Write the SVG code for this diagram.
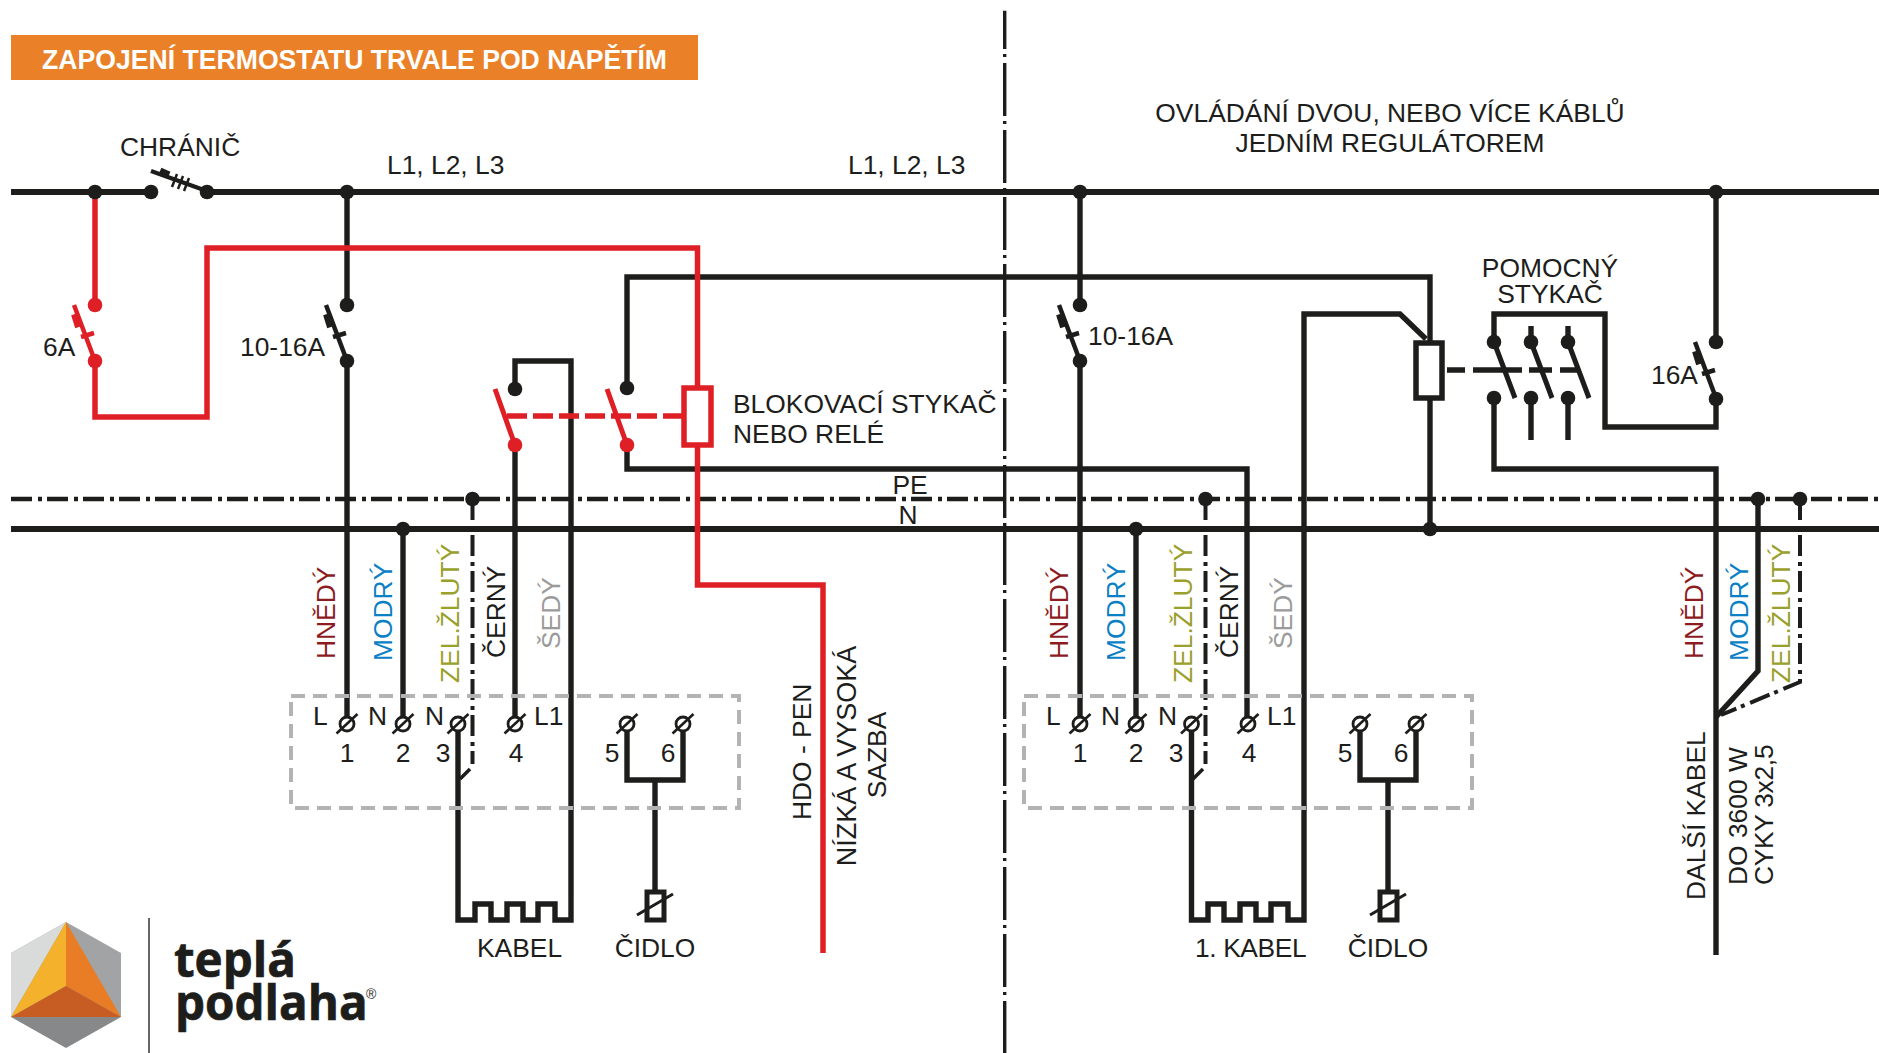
<svg xmlns="http://www.w3.org/2000/svg" xmlns:xlink="http://www.w3.org/1999/xlink" width="1879" height="1053" viewBox="0 0 1879 1053">
<style>
text{font-family:"Liberation Sans",Arial,sans-serif;font-size:26.4px;fill:#1d1d1b}
.w{fill:none;stroke:#1d1d1b;stroke-width:6;stroke-miterlimit:10}
.r{fill:none;stroke:#df1f26;stroke-width:5.5;stroke-miterlimit:10}
.dd{stroke-dasharray:21 6 4 5;stroke-width:4.4}
.t{stroke-width:5.4}
.dv{stroke-dasharray:21 6 4 5;stroke-width:4}
.k{fill:#1d1d1b}
.kr{fill:#df1f26}
.box{fill:none;stroke:#b3b3b3;stroke-width:4;stroke-dasharray:14 8}
.brown{fill:#8c1c1f}.blue{fill:#0b80c4}.olive{fill:#9aa02c}.grey{fill:#9b9b9b}
.m{text-anchor:middle}
.logo{font-family:"Open Sans",sans-serif;font-weight:bold;font-size:47.5px;stroke:#1d1d1b;stroke-width:.7}
</style>
<defs>
<g id="term">
<circle r="7" fill="#fff" stroke="#1d1d1b" stroke-width="2.8"/>
<path d="M-10.500 9.500L10.500-10" stroke="#1d1d1b" stroke-width="2.600" fill="none"/>
</g>
<g id="blade">
<path d="M-21 0L0 56M-14 32L-1 28" fill="none" stroke-width="4.500"/>
<path d="M-20 9L-16 22" fill="none" stroke-width="8"/>
</g>
<g id="sensor">
<rect x="-8" y="-29" width="17" height="28" fill="none" stroke="#1d1d1b" stroke-width="5"/>
<path d="M-18-6L18-27" stroke="#1d1d1b" stroke-width="3" fill="none"/>
</g>
</defs>

<g id="title">
<rect x="11" y="35" width="687" height="45" fill="#ea8129"/>
<text x="42" y="69" style="font-weight:bold;font-size:27px;fill:#fff" textLength="625" lengthAdjust="spacingAndGlyphs">ZAPOJENÍ TERMOSTATU TRVALE POD NAPĚTÍM</text>
</g>

<g id="separator">
<path d="M1004.700 10.700V1053" fill="none" stroke="#1d1d1b" stroke-width="3.400" stroke-dasharray="53 5 3 6" stroke-dashoffset="14.700"/>
</g>

<g id="connectors">
<path class="w" d="M11 192H150M207 192H1879"/>
<path class="w dd" d="M11 499H1879"/>
<path class="w" d="M11 529H1879"/>
<path class="w t" d="M347 192V305M347 361V717"/>
<path class="w t" d="M403 529V717"/>
<path class="w dv" d="M472.500 499V764"/>
<path class="w t" d="M515 389V361H571V920H555V904H538V920H523V904H507V920H491V904H475V920H458V731"/>
<path class="w" d="M470 769L460 779" style="stroke-width:3.500"/>
<path class="w t" d="M515 445V717"/>
<path class="w t" d="M627 731V780H683V731M655 780V891"/>
<path class="w t" d="M627 388V277H1430V342M627 445V469H1247V717"/>
<path class="w t" d="M1080 192V305M1080 361V717"/>
<path class="w t" d="M1136 529V717"/>
<path class="w dv" d="M1205.500 499V764"/>
<path class="w" d="M1203 769L1193 779" style="stroke-width:3.500"/>
<path class="w t" d="M1191.500 731V920H1208V904H1224V920H1240V904H1256V920H1271V904H1288V920H1304V314H1400L1426 339"/>
<path class="w t" d="M1360 731V780H1416V731M1388 780V891"/>
<path class="w t" d="M1430 398V529"/>
<path class="w t" d="M1447 370H1465M1473 370H1522M1529 370H1552M1560 370H1577"/>
<path class="w t" d="M1494 342V314H1605V427H1716V399"/>
<path class="w t" d="M1531 326V342M1568 326V342M1531 398V440M1568 398V440"/>
<path class="w t" d="M1494 398V469H1716V955"/>
<path class="w t" d="M1716 192V342"/>
<path class="w t" d="M1758 499V671L1716 717"/>
<path class="w dv" d="M1800 499V682L1721 715"/>
<path class="r" d="M95 192V305M95 361V417H207V248H697.500V388M697.500 445V585H823V953"/>
<path class="r" d="M507 416H682" stroke-dasharray="20 6"/>
</g>

<g id="breaker">
<circle class="k" cx="151" cy="192" r="7.300"/>
<circle class="k" cx="207" cy="192" r="7.300"/>
<path class="w" d="M151 171L204 190" style="stroke-width:4"/>
<path class="w" d="M160 171L169 175" style="stroke-width:7"/>
<path class="w" d="M177 174L172 187M183 176L178 189M189 178L184 191" style="stroke-width:2.500"/>
<text x="120" y="156">CHRÁNIČ</text>
</g>

<g id="junctions">
<circle class="k" cx="95" cy="192" r="7.300"/>
<circle class="k" cx="347" cy="192" r="7.300"/>
<circle class="k" cx="1080" cy="192" r="7.300"/>
<circle class="k" cx="1716" cy="192" r="7.300"/>
<circle class="k" cx="403" cy="529" r="7.300"/>
<circle class="k" cx="472.500" cy="499" r="7.300"/>
<circle class="k" cx="1136" cy="529" r="7.300"/>
<circle class="k" cx="1205.500" cy="499" r="7.300"/>
<circle class="k" cx="1430" cy="529" r="7.300"/>
<circle class="k" cx="1758" cy="499" r="7.300"/>
<circle class="k" cx="1800" cy="499" r="7.300"/>
</g>

<g id="switch-6a">
<use href="#blade" x="95" y="305" stroke="#df1f26"/>
<circle class="kr" cx="95" cy="305" r="7.300"/>
<circle class="kr" cx="95" cy="361" r="7.300"/>
<text x="43" y="356">6A</text>
</g>
<g id="switch-10-16a-left">
<use href="#blade" x="347" y="305" stroke="#1d1d1b"/>
<circle class="k" cx="347" cy="305" r="7.300"/>
<circle class="k" cx="347" cy="361" r="7.300"/>
<text x="240" y="356">10-16A</text>
</g>
<g id="switch-10-16a-right">
<use href="#blade" x="1080" y="305" stroke="#1d1d1b"/>
<circle class="k" cx="1080" cy="305" r="7.300"/>
<circle class="k" cx="1080" cy="361" r="7.300"/>
<text x="1088" y="345">10-16A</text>
</g>
<g id="switch-16a">
<use href="#blade" x="1716" y="342" stroke="#1d1d1b"/>
<circle class="k" cx="1716" cy="342" r="7.300"/>
<circle class="k" cx="1716" cy="399" r="7.300"/>
<text x="1651" y="384">16A</text>
</g>

<g id="blocking-relay">
<circle class="k" cx="515" cy="389" r="7.300"/>
<circle class="kr" cx="515" cy="445" r="7.300"/>
<circle class="k" cx="627" cy="388" r="7.300"/>
<circle class="kr" cx="627" cy="445" r="7.300"/>
<path class="r" d="M495 389L515 445M607 389L627 445" style="stroke-width:5"/>
<rect x="684" y="388" width="27" height="57" class="r"/>
<text x="733" y="413">BLOKOVACÍ STYKAČ</text>
<text x="733" y="443">NEBO RELÉ</text>
</g>

<g id="aux-contactor">
<rect x="1416" y="343" width="26" height="55" fill="none" stroke="#1d1d1b" stroke-width="5.500"/>
<path class="w" d="M1494 342L1515 398M1531 342L1552 398M1568 342L1589 398" style="stroke-width:5"/>
<circle class="k" cx="1494" cy="342" r="7.300"/>
<circle class="k" cx="1531" cy="342" r="7.300"/>
<circle class="k" cx="1568" cy="342" r="7.300"/>
<circle class="k" cx="1494" cy="398" r="7.300"/>
<circle class="k" cx="1531" cy="398" r="7.300"/>
<circle class="k" cx="1568" cy="398" r="7.300"/>
<text class="m" x="1550" y="277">POMOCNÝ</text>
<text class="m" x="1550" y="303">STYKAČ</text>
</g>

<g id="thermostat-left">
<rect class="box" x="291" y="696" width="448" height="112"/>
<use href="#term" x="347" y="724"/>
<use href="#term" x="403" y="724"/>
<use href="#term" x="458" y="724"/>
<use href="#term" x="515" y="724"/>
<use href="#term" x="627" y="724"/>
<use href="#term" x="683" y="724"/>
<text x="313" y="725">L</text><text x="368" y="725">N</text><text x="425" y="725">N</text><text x="534" y="725">L1</text>
<text class="m" x="347" y="762">1</text><text class="m" x="403" y="762">2</text><text class="m" x="443" y="762">3</text><text class="m" x="516" y="762">4</text><text class="m" x="612" y="762">5</text><text class="m" x="668" y="762">6</text>
</g>
<g id="thermostat-right">
<rect class="box" x="1024" y="696" width="448" height="112"/>
<use href="#term" x="1080" y="724"/>
<use href="#term" x="1136" y="724"/>
<use href="#term" x="1191.500" y="724"/>
<use href="#term" x="1248" y="724"/>
<use href="#term" x="1360" y="724"/>
<use href="#term" x="1416" y="724"/>
<text x="1046" y="725">L</text><text x="1101" y="725">N</text><text x="1158" y="725">N</text><text x="1267" y="725">L1</text>
<text class="m" x="1080" y="762">1</text><text class="m" x="1136" y="762">2</text><text class="m" x="1176" y="762">3</text><text class="m" x="1249" y="762">4</text><text class="m" x="1345" y="762">5</text><text class="m" x="1401" y="762">6</text>
</g>

<g id="sensor-left"><use href="#sensor" x="655" y="921"/><text class="m" x="655" y="957">ČIDLO</text></g>
<g id="sensor-right"><use href="#sensor" x="1388" y="921"/><text class="m" x="1388" y="957">ČIDLO</text></g>
<g id="cable-left"><text x="477" y="957">KABEL</text></g>
<g id="cable-right"><text x="1195" y="957" style="letter-spacing:-.4px">1. KABEL</text></g>

<g id="labels">
<text x="387" y="174">L1, L2, L3</text>
<text x="848" y="174">L1, L2, L3</text>
<text class="m" x="1390" y="122">OVLÁDÁNÍ DVOU, NEBO VÍCE KÁBLŮ</text>
<text class="m" x="1390" y="152">JEDNÍM REGULÁTOREM</text>
<text class="m" x="910" y="494">PE</text>
<text class="m" x="908" y="524">N</text>
<text class="brown" transform="translate(335 659) rotate(-90)">HNĚDÝ</text>
<text class="blue" transform="translate(392 661) rotate(-90)">MODRÝ</text>
<text class="olive" transform="translate(459 683) rotate(-90)">ZEL.ŽLUTÝ</text>
<text transform="translate(505 658) rotate(-90)">ČERNÝ</text>
<text class="grey" transform="translate(560 649) rotate(-90)">ŠEDÝ</text>
<text class="brown" transform="translate(1068 659) rotate(-90)">HNĚDÝ</text>
<text class="blue" transform="translate(1125 661) rotate(-90)">MODRÝ</text>
<text class="olive" transform="translate(1192 683) rotate(-90)">ZEL.ŽLUTÝ</text>
<text transform="translate(1238 658) rotate(-90)">ČERNÝ</text>
<text class="grey" transform="translate(1292 649) rotate(-90)">ŠEDÝ</text>
<text class="brown" transform="translate(1703 659) rotate(-90)">HNĚDÝ</text>
<text class="blue" transform="translate(1748 661) rotate(-90)">MODRÝ</text>
<text class="olive" transform="translate(1790 683) rotate(-90)">ZEL.ŽLUTÝ</text>
<text transform="translate(811 820) rotate(-90)">HDO - PEN</text>
<text class="m" transform="translate(856 756) rotate(-90)" style="font-size:27px">NÍZKÁ A VYSOKÁ</text>
<text class="m" transform="translate(886 755) rotate(-90)">SAZBA</text>
<text transform="translate(1705 900) rotate(-90)">DALŠÍ KABEL</text>
<text transform="translate(1747 885) rotate(-90)">DO 3600 W</text>
<text transform="translate(1773 885) rotate(-90)" style="letter-spacing:-.3px">CYKY 3x2,5</text>
</g>

<g id="logo">
<path d="M66 922L121 953V1017H11V953Z" fill="#a1a3a5"/>
<path d="M66 922L11 953V1017Z" fill="#d9dbda"/>
<path d="M11 1017H121L66 1048Z" fill="#87888a"/>
<path d="M66 922L11 1017L66 986Z" fill="#f4b12b"/>
<path d="M66 922L121 1017L66 986Z" fill="#e87d26"/>
<path d="M11 1017H121L66 986Z" fill="#c75d22"/>
<path d="M149 918V1053" stroke="#666" stroke-width="2" fill="none"/>
<text class="logo" x="174" y="977">teplá</text>
<text class="logo" x="175" y="1020">podlaha</text>
<text x="366" y="999" style="font-size:14px">®</text>
</g>
</svg>
